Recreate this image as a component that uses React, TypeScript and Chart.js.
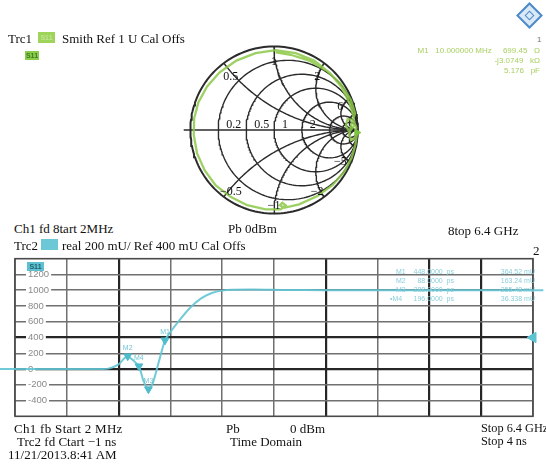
import React, { useEffect, useRef } from "react";
import { Chart, registerables } from "chart.js";

Chart.register(...registerables);

// ---------- Trc1: Smith chart ----------
const resistanceCircles = [0.2, 0.5, 1, 2, 5, 10];
const reactanceArcs = [0.5, 1, 2, 5, 10, -0.5, -1, -2, -5, -10];
const resistanceLabelValues = [0.2, 0.5, 1, 2];
const resistanceLabelTexts = ["0.2", "0.5", "1", "2"];
const reactanceLabelValues = [0.5, 1, 2, 5, -0.5, -1, -2, -5];
const reactanceLabelTexts = ["0.5", "1", "2", "6", "\u22120.5", "\u22121", "\u22122", "\u22125"];

// S11 reflection coefficient (real / imaginary), 2 MHz .. 6.4 GHz
const s11Re = [
  0.998, 0.975, 0.93, 0.84, 0.7, 0.52, 0.3, 0.12, 0.07, 0.1, 0.14, 0.08, -0.1, -0.32, -0.52,
  -0.7, -0.83, -0.92, -0.96, -0.955, -0.905, -0.8, -0.65, -0.45, -0.22, 0.02, 0.26, 0.48, 0.67,
  0.81, 0.9, 0.95, 0.96, 0.9, 0.86, 0.88, 0.95, 0.985, 0.97, 0.92, 0.9, 0.93, 0.97, 0.92, 0.8,
  0.63, 0.42, 0.2, 0.02,
];
const s11Im = [
  -0.006, -0.17, -0.33, -0.5, -0.66, -0.79, -0.89, -0.93, -0.9, -0.87, -0.9, -0.95, -0.95, -0.9,
  -0.8, -0.66, -0.48, -0.28, -0.06, 0.14, 0.33, 0.52, 0.69, 0.83, 0.92, 0.955, 0.92, 0.83, 0.68,
  0.51, 0.33, 0.17, 0.05, -0.02, 0.05, 0.13, 0.12, 0.03, -0.1, -0.12, -0.05, 0.08, 0.2, 0.36,
  0.55, 0.71, 0.83, 0.9, 0.93,
];

// Trc1 marker M1 (10 MHz)
const smithMarkerRe = [0.992];
const smithMarkerIm = [-0.031];
const smithMarkerLines = ["M1   10.000000 MHz     699.45   \u03a9", "-j3.0749   k\u03a9", "5.176   pF"];

// ---------- Trc2: time domain, real part ----------
const timeNs = [
  -1.3, -0.25, -0.1, 0.0, 0.05, 0.088, 0.14, 0.196, 0.24, 0.288, 0.33, 0.39, 0.448, 0.5, 0.6, 0.7,
  0.8, 0.9, 1.0, 1.1, 1.3, 1.6, 2.0, 4.1,
];
const realMU = [
  0, 0, 5, 60, 130, 163, 110, 36, -150, -255, -180, 100, 364, 470, 640, 790, 900, 965, 995, 1005,
  1010, 1004, 1000, 1000,
];

const markerNames = ["M1", "M2", "M3", "M4"];
const markerTimePs = [448, 88, 288, 196];
const markerValueMU = [364.52, 163.24, -255.48, 36.338];
const activeMarker = "M4";

const yTickValues = [1200, 1000, 800, 600, 400, 200, 0, -200, -400];
const refLevelMU = 400;
const boldTimeLines = [0, 2, 3, 3.5];
const boldLevelLines = [400, 0];

const SERIF = '"Liberation Serif", "Times New Roman", serif';
const SANS = '"Liberation Sans", Arial, sans-serif';
const GREEN = "rgba(140, 200, 70, 0.85)";
const CYAN = "rgba(98, 196, 212, 0.9)";

function gamma(r: number, x: number) {
  const den = (r + 1) * (r + 1) + x * x;
  return { x: (r * r + x * x - 1) / den, y: (2 * x) / den };
}

function resistanceCircle(r: number) {
  const pts = [{ x: 1, y: 0 }];
  for (let a = -89.5; a <= 89.5; a += 1) pts.push(gamma(r, Math.tan((a * Math.PI) / 180)));
  pts.push({ x: 1, y: 0 });
  return pts;
}

function reactanceArc(xv: number) {
  const pts = [];
  for (let a = 0; a <= 89.5; a += 1) pts.push(gamma(Math.tan((a * Math.PI) / 180), xv));
  pts.push({ x: 1, y: 0 });
  return pts;
}

const gridLine = (data: { x: number; y: number }[], width = 1.4) => ({
  data,
  showLine: true,
  borderColor: "#2b2b2b",
  borderWidth: width,
  pointRadius: 0,
  order: 3,
});

const smithLabels = {
  id: "smithLabels",
  afterDatasetsDraw(chart: any) {
    const { ctx, scales } = chart;
    const px = (v: number) => scales.x.getPixelForValue(v);
    const py = (v: number) => scales.y.getPixelForValue(v);
    ctx.save();
    ctx.fillStyle = "#111";
    ctx.font = `12px ${SERIF}`;
    ctx.textAlign = "left";
    ctx.textBaseline = "alphabetic";
    resistanceLabelValues.forEach((r, i) => {
      const g = (r - 1) / (r + 1);
      ctx.fillText(resistanceLabelTexts[i], px(g) + 8, py(0) - 2);
    });
    ctx.textAlign = "center";
    ctx.textBaseline = "middle";
    reactanceLabelValues.forEach((xv, i) => {
      const g = gamma(0, xv);
      ctx.fillText(reactanceLabelTexts[i], px(g.x * 0.86), py(g.y * 0.86) + 4);
    });
    ctx.restore();
  },
};

function smithConfig(): any {
  const R = 100 / 88;
  const datasets: any[] = [];
  datasets.push(gridLine(resistanceCircle(0), 2));
  resistanceCircles.forEach((r) => datasets.push(gridLine(resistanceCircle(r))));
  reactanceArcs.forEach((xv) => datasets.push(gridLine(reactanceArc(xv))));
  datasets.push(gridLine([{ x: -1.08, y: 0 }, { x: 1, y: 0 }], 1.6));
  datasets.push({
    data: s11Re.map((re, i) => ({ x: re, y: s11Im[i] })),
    showLine: true,
    borderColor: GREEN,
    borderWidth: 2.3,
    pointRadius: 0,
    order: 1,
  });
  datasets.push({
    data: smithMarkerRe.map((re, i) => ({ x: re, y: smithMarkerIm[i] })),
    pointStyle: "triangle",
    rotation: 90,
    radius: 4,
    backgroundColor: "#7cc63c",
    borderColor: "#7cc63c",
    order: 0,
  });
  return {
    type: "scatter",
    data: { datasets },
    options: {
      animation: false,
      responsive: false,
      maintainAspectRatio: false,
      layout: { padding: 0 },
      plugins: { legend: { display: false }, tooltip: { enabled: false } },
      scales: {
        x: { type: "linear", min: -R, max: R, display: false },
        y: { type: "linear", min: -R, max: R, display: false },
      },
    },
    plugins: [smithLabels],
  };
}

const frameAndMarkers = {
  id: "frameAndMarkers",
  beforeDatasetsDraw(chart: any) {
    const { ctx, chartArea: a } = chart;
    ctx.save();
    ctx.strokeStyle = "#4a4a4a";
    ctx.lineWidth = 1.6;
    ctx.strokeRect(a.left, a.top, a.right - a.left, a.bottom - a.top);
    ctx.restore();
  },
  afterDatasetsDraw(chart: any) {
    const { ctx } = chart;
    const meta = chart.getDatasetMeta(1);
    ctx.save();
    ctx.fillStyle = "rgba(98, 190, 206, 0.9)";
    ctx.font = `7px ${SANS}`;
    ctx.textAlign = "center";
    ctx.textBaseline = "bottom";
    meta.data.forEach((el: any, i: number) => {
      ctx.fillText(markerNames[i], el.x, el.y - 5);
    });
    ctx.restore();
  },
};

function timeConfig(): any {
  return {
    type: "line",
    data: {
      datasets: [
        {
          data: timeNs.map((t, i) => ({ x: t, y: realMU[i] })),
          borderColor: CYAN,
          borderWidth: 2,
          pointRadius: 0,
          tension: 0.25,
          clip: false,
          order: 2,
        },
        {
          type: "scatter",
          data: markerTimePs.map((t, i) => ({ x: t / 1000, y: markerValueMU[i] })),
          pointStyle: "triangle",
          rotation: 180,
          radius: 4.5,
          backgroundColor: "#4fbccd",
          borderColor: "#4fbccd",
          order: 1,
        },
        {
          type: "scatter",
          data: [{ x: 4, y: refLevelMU }],
          pointStyle: "triangle",
          rotation: 270,
          radius: 6,
          backgroundColor: "#5cc3d3",
          borderColor: "#5cc3d3",
          clip: false,
          order: 0,
        },
      ],
    },
    options: {
      animation: false,
      responsive: false,
      maintainAspectRatio: false,
      layout: { padding: { left: 15, right: 13, top: 17, bottom: 14 } },
      plugins: { legend: { display: false }, tooltip: { enabled: false } },
      scales: {
        x: {
          type: "linear",
          min: -1,
          max: 4,
          ticks: { display: false, stepSize: 0.5 },
          border: { display: false },
          afterFit: (s: any) => {
            s.height = 0;
          },
          grid: {
            drawTicks: false,
            color: (c: any) => (c.tick && boldTimeLines.includes(c.tick.value) ? "#262626" : "#707070"),
            lineWidth: (c: any) => (c.tick && boldTimeLines.includes(c.tick.value) ? 2.2 : 1.5),
          },
        },
        y: {
          type: "linear",
          min: -600,
          max: 1400,
          afterBuildTicks: (s: any) => {
            s.ticks = yTickValues.map((v) => ({ value: v }));
          },
          afterFit: (s: any) => {
            s.width = 0;
          },
          border: { display: false },
          ticks: {
            mirror: true,
            padding: 13,
            color: "#8a8a8a",
            font: { size: 9.5, family: SANS },
            callback: (v: number) => String(v),
            showLabelBackdrop: true,
            backdropColor: "#ffffff",
            backdropPadding: { x: 2, y: 0 },
          },
          grid: {
            drawTicks: false,
            color: (c: any) => (c.tick && boldLevelLines.includes(c.tick.value) ? "#262626" : "#707070"),
            lineWidth: (c: any) => (c.tick && boldLevelLines.includes(c.tick.value) ? 2.2 : 1.5),
          },
        },
      },
    },
    plugins: [frameAndMarkers],
  };
}

function T(props: { x: number; y: number; s?: number; font?: string; color?: string; children: any; style?: any }) {
  return (
    <div
      style={{
        position: "absolute",
        left: props.x,
        top: props.y,
        fontSize: props.s ?? 13,
        lineHeight: 1,
        whiteSpace: "nowrap",
        fontFamily: props.font ?? SERIF,
        color: props.color ?? "#111",
        ...props.style,
      }}
    >
      {props.children}
    </div>
  );
}

function Badge(props: { x: number; y: number; w: number; h: number; bg: string; text?: string; color?: string }) {
  return (
    <div
      style={{
        position: "absolute",
        left: props.x,
        top: props.y,
        width: props.w,
        height: props.h,
        background: props.bg,
        fontFamily: SANS,
        fontSize: 7,
        fontWeight: "bold",
        lineHeight: `${props.h}px`,
        textAlign: "center",
        color: props.color ?? "rgba(255,255,255,0.5)",
      }}
    >
      {props.text ?? ""}
    </div>
  );
}

export default function App() {
  const smithRef = useRef<HTMLCanvasElement>(null);
  const timeRef = useRef<HTMLCanvasElement>(null);

  useEffect(() => {
    const smith = new Chart(smithRef.current as HTMLCanvasElement, smithConfig());
    const time = new Chart(timeRef.current as HTMLCanvasElement, timeConfig());
    return () => {
      smith.destroy();
      time.destroy();
    };
  }, []);

  const tableTop = 268;
  const tableStep = 9;

  return (
    <div
      style={{
        position: "fixed",
        left: 0,
        top: 0,
        width: 546,
        height: 466,
        background: "#fff",
        overflow: "hidden",
      }}
    >
      <canvas
        ref={smithRef}
        width={200}
        height={200}
        style={{ position: "absolute", left: 174, top: 30, width: 200, height: 200 }}
      />
      <canvas
        ref={timeRef}
        width={546}
        height={195}
        style={{ position: "absolute", left: 0, top: 240, width: 546, height: 195 }}
      />

      {/* R&S logo */}
      <div
        style={{
          position: "absolute",
          left: 520,
          top: 6,
          width: 15,
          height: 15,
          transform: "rotate(45deg)",
          border: "2px solid #4d8bcc",
          background: "#dbe8f6",
        }}
      >
        <div style={{ position: "absolute", left: 4, top: 4, width: 5, height: 5, border: "1.5px solid #4d8bcc" }} />
      </div>
      <T x={537} y={36} s={8} font={SANS} color="#777">1</T>

      {/* Trc1 header */}
      <T x={8} y={32}>Trc1</T>
      <Badge x={38} y={32} w={17} h={11} bg="#9fd45b" text="S11" color="rgba(255,255,255,0.35)" />
      <T x={62} y={32}>Smith Ref 1 U Cal Offs</T>
      <Badge x={25} y={51} w={14} h={9} bg="#8ccc4c" text="S11" color="#3d7a1c" />

      {smithMarkerLines.map((line, i) => (
        <div
          key={line}
          style={{
            position: "absolute",
            right: 6,
            top: 47 + i * 10,
            fontFamily: SANS,
            fontSize: 8,
            lineHeight: 1,
            whiteSpace: "pre",
            color: "#a9cf62",
            filter: "blur(0.3px)",
          }}
        >
          {line}
        </div>
      ))}

      {/* Channel 1 line */}
      <T x={14} y={222}>Ch1 fd 8tart 2MHz</T>
      <T x={228} y={222}>Pb 0dBm</T>
      <T x={448} y={224}>8top 6.4 GHz</T>

      {/* Trc2 header */}
      <T x={14} y={239}>Trc2</T>
      <Badge x={41} y={239} w={17} h={11} bg="#6cc7d6" text="" />
      <T x={62} y={239}>real 200 mU/ Ref 400 mU Cal Offs</T>
      <T x={533} y={244}>2</T>
      <Badge x={27} y={262} w={17} h={9} bg="#5dc0d0" text="S11" color="#1f5f6e" />

      {/* Trc2 marker table */}
      {markerNames.map((name, i) => {
        const top = tableTop + i * tableStep;
        const base = {
          position: "absolute" as const,
          top,
          fontFamily: SANS,
          fontSize: 7,
          lineHeight: 1,
          whiteSpace: "pre" as const,
          color: "#8ccfdb",
          filter: "blur(0.3px)",
        };
        return (
          <React.Fragment key={name}>
            <div style={{ ...base, left: name === activeMarker ? 390 : 396 }}>
              {(name === activeMarker ? "\u2022" : "") + name}
            </div>
            <div style={{ ...base, right: 92 }}>{`${markerTimePs[i].toFixed(4)}  ps`}</div>
            <div style={{ ...base, right: 11 }}>{`${markerValueMU[i].toPrecision(5)} mU`}</div>
          </React.Fragment>
        );
      })}

      {/* footer */}
      <T x={14} y={422} style={{ letterSpacing: 0.3 }}>Ch1 fb Start 2 MHz</T>
      <T x={17} y={435}>Trc2 fd Ctart {"\u2212"}1 ns</T>
      <T x={8} y={448}>11/21/2013.8:41 AM</T>
      <T x={226} y={422}>Pb</T>
      <T x={290} y={422}>0 dBm</T>
      <T x={230} y={435}>Time Domain</T>
      <T x={481} y={422} s={12.3}>Stop 6.4 GHz</T>
      <T x={481} y={435} s={12.3}>Stop 4 ns</T>
    </div>
  );
}
